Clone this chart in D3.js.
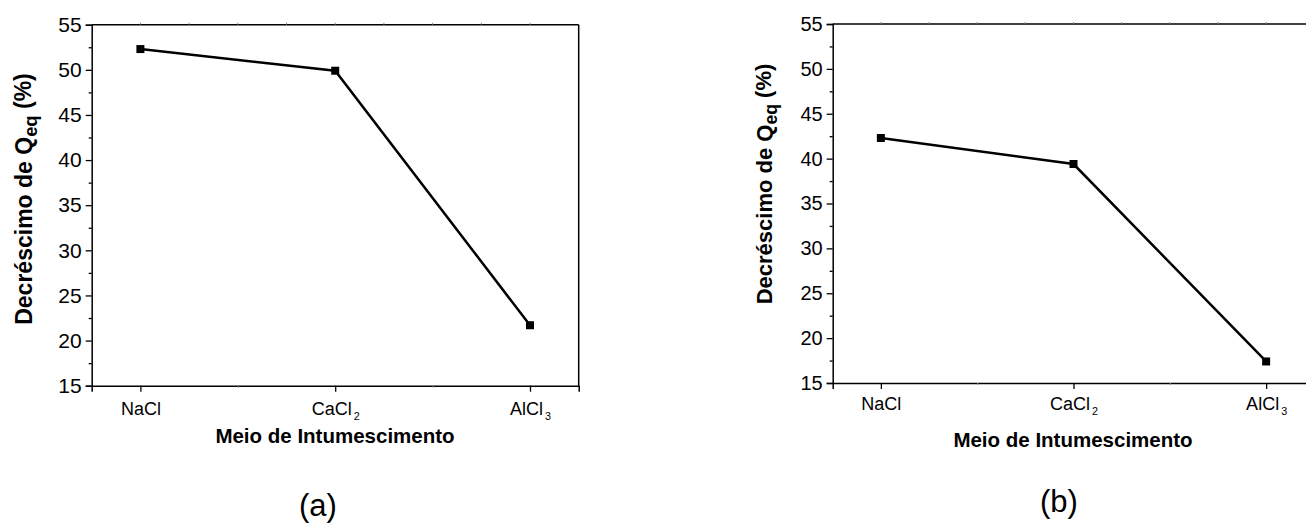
<!DOCTYPE html>
<html>
<head>
<meta charset="utf-8">
<script src="https://cdn.jsdelivr.net/npm/d3@7"></script>
<style>
  html, body { margin: 0; padding: 0; background: #fff; }
  svg { display: block; }
  text { font-family: "Liberation Sans", Arial, sans-serif; fill: #000; }
</style>
</head>
<body>
<svg id="chart" width="1306" height="523"></svg>
<script>
// ---- data ----
const categoryBase = ["NaCl", "CaCl", "AlCl"];
const categorySub  = ["", "2", "3"];
const valuesA = [52.3, 49.9, 21.7];
const valuesB = [42.3, 39.4, 17.4];
const yTicks = [15, 20, 25, 30, 35, 40, 45, 50, 55];
const yMinorTicks = [17.5, 22.5, 27.5, 32.5, 37.5, 42.5, 47.5, 52.5];
const panelLabels = ["(a)", "(b)"];
const xTitle = "Meio de Intumescimento";
const yTitleMain = "Decréscimo de Q";
const yTitleSub = "eq";
const yTitleEnd = " (%)";

const svg = d3.select("#chart");
const FONT = "'Liberation Sans', Arial, sans-serif";

const panels = [
  { values: valuesA, label: panelLabels[0],
    x0: 91.7, x1: 578.7, yTop: 24.7, yBot: 385.7,
    tickFont: 21, xTickFont: 18, xPad: 10.5,
    yTitleX: 31.5, yTitleY: 199, yTitleFont: 23,
    xTitleX: 335, xTitleY: 443, labelX: 318, labelY: 516 },
  { values: valuesB, label: panelLabels[1],
    x0: 832.7, x1: 1314.3, yTop: 24, yBot: 383,
    tickFont: 20, xTickFont: 18, xPad: 8.5,
    yTitleX: 771.5, yTitleY: 184, yTitleFont: 22,
    xTitleX: 1073, xTitleY: 447, labelX: 1059, labelY: 512 }
];

panels.forEach(p => {
  const g = svg.append("g");
  const x = d3.scaleLinear().domain([-0.25, 2.25]).range([p.x0, p.x1]);
  const y = d3.scaleLinear().domain([15, 55]).range([p.yBot, p.yTop]);

  // frame top & right
  g.append("line").attr("x1", p.x0).attr("x2", p.x1).attr("y1", p.yTop).attr("y2", p.yTop)
    .attr("stroke", "#000").attr("stroke-width", 1.5);
  g.append("line").attr("x1", p.x1).attr("x2", p.x1).attr("y1", p.yTop).attr("y2", p.yBot)
    .attr("stroke", "#000").attr("stroke-width", 1.5);

  // top minor ticks (quarters)
  const quarters = d3.range(0, 2.01, 0.25);
  g.selectAll(".tq").data(quarters).join("line")
    .attr("x1", d => x(d)).attr("x2", d => x(d))
    .attr("y1", p.yTop).attr("y2", p.yTop - 2)
    .attr("stroke", "#888").attr("stroke-width", 1);

  // y axis major
  const yAxis = g.append("g").attr("transform", `translate(${p.x0},0)`)
    .call(d3.axisLeft(y).tickValues(yTicks).tickSize(6).tickPadding(4).tickFormat(d3.format("d")));
  yAxis.attr("font-family", null);
  yAxis.select(".domain").attr("stroke-width", 1.5);
  yAxis.selectAll(".tick line").attr("stroke-width", 1.3);
  yAxis.selectAll("text").style("font-size", p.tickFont + "px").style("font-family", FONT);
  // y axis minor
  const yMinor = g.append("g").attr("transform", `translate(${p.x0},0)`)
    .call(d3.axisLeft(y).tickValues(yMinorTicks).tickSize(3).tickFormat(""));
  yMinor.select(".domain").remove();
  yMinor.selectAll(".tick line").attr("stroke-width", 1.3);

  // x axis major
  const xAxis = g.append("g").attr("transform", `translate(0,${p.yBot})`)
    .call(d3.axisBottom(x).tickValues([0, 1, 2]).tickSize(6).tickPadding(p.xPad).tickFormat(""));
  xAxis.attr("font-family", null);
  xAxis.select(".domain").attr("stroke-width", 1.5);
  xAxis.selectAll(".tick line").attr("stroke-width", 1.3);
  xAxis.selectAll(".tick text").each(function(d, i) {
    const t = d3.select(this).style("font-size", p.xTickFont + "px").style("font-family", FONT);
    t.append("tspan").text(categoryBase[i]);
    if (categorySub[i]) {
      t.append("tspan").attr("dy", "0.45em").attr("dx", "2")
        .style("font-size", (p.xTickFont * 0.6) + "px").text(categorySub[i]);
    }
  });
  // x axis minor
  const xMinor = g.append("g").attr("transform", `translate(0,${p.yBot})`)
    .call(d3.axisBottom(x).tickValues([0.5, 1.5]).tickSize(2).tickFormat(""));
  xMinor.select(".domain").remove();
  xMinor.selectAll(".tick line").attr("stroke", "#888");

  // line
  const line = d3.line().x((d, i) => x(i)).y(d => y(d));
  g.append("path").datum(p.values).attr("d", line)
    .attr("fill", "none").attr("stroke", "#000").attr("stroke-width", 2.5);
  // markers
  const ms = 8;
  g.selectAll(".mk").data(p.values).join("rect")
    .attr("x", (d, i) => x(i) - ms / 2).attr("y", d => y(d) - ms / 2)
    .attr("width", ms).attr("height", ms).attr("fill", "#000");

  // y title
  const yt = g.append("text")
    .attr("transform", `translate(${p.yTitleX},${p.yTitleY}) rotate(-90)`)
    .attr("text-anchor", "middle")
    .style("font-size", p.yTitleFont + "px").style("font-weight", "bold");
  yt.append("tspan").text(yTitleMain);
  yt.append("tspan").attr("dy", "0.3em").style("font-size", (p.yTitleFont * 0.8) + "px").text(yTitleSub);
  yt.append("tspan").attr("dy", "-0.25em").text(yTitleEnd);

  // x title
  g.append("text").attr("x", p.xTitleX).attr("y", p.xTitleY)
    .attr("text-anchor", "middle")
    .style("font-size", "20.5px").style("font-weight", "bold").text(xTitle);

  // panel label
  g.append("text").attr("x", p.labelX).attr("y", p.labelY)
    .attr("text-anchor", "middle").style("font-size", "31px").text(p.label);
});
</script>
</body>
</html>
